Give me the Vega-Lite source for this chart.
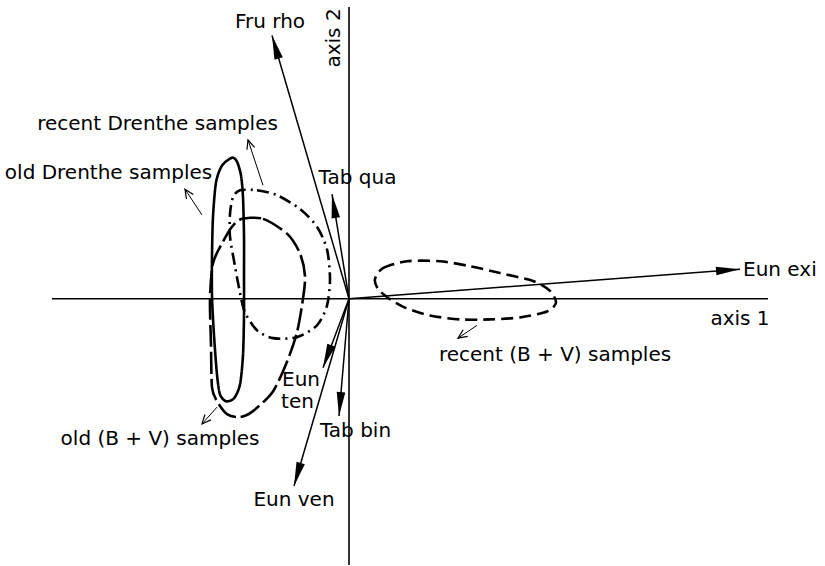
{
  "$schema": "https://vega.github.io/schema/vega-lite/v6.json",
  "width": 825,
  "height": 566,
  "padding": 0,
  "autosize": {"type": "fit", "contains": "padding"},
  "background": "white",
  "config": {"view": {"stroke": null}},
  "datasets": {
    "axes": [
      {"x": -2.97, "y": 0, "x2": 4.19, "y2": 0},
      {"x": 0, "y": 2.96, "x2": 0, "y2": -2.7}
    ],
    "vectors": [
      {"name": "Fru rho", "x0": 0, "y0": 0, "x": -0.77, "y": 2.67},
      {"name": "Tab qua", "x0": 0, "y0": 0, "x": -0.17, "y": 1.06},
      {"name": "Eun exi", "x0": 0, "y0": 0, "x": 3.91, "y": 0.30},
      {"name": "Eun ten", "x0": 0, "y0": 0, "x": -0.26, "y": -0.70},
      {"name": "Tab bin", "x0": 0, "y0": 0, "x": -0.10, "y": -1.19},
      {"name": "Eun ven", "x0": 0, "y0": 0, "x": -0.55, "y": -1.90}
    ],
    "pointers": [
      {"x": -0.86, "y": 1.15, "x2": -1.01, "y2": 1.61},
      {"x": -1.47, "y": 0.85, "x2": -1.64, "y2": 1.11},
      {"x": 1.28, "y": -0.27, "x2": 1.09, "y2": -0.40},
      {"x": -1.32, "y": -1.10, "x2": -1.47, "y2": -1.27}
    ],
    "envelopes": [
      {"g": "old Drenthe", "i": 1, "x": -1.17, "y": 1.43},
      {"g": "old Drenthe", "i": 2, "x": -1.27, "y": 1.35},
      {"g": "old Drenthe", "i": 3, "x": -1.33, "y": 1.18},
      {"g": "old Drenthe", "i": 4, "x": -1.36, "y": 0.83},
      {"g": "old Drenthe", "i": 5, "x": -1.37, "y": 0.43},
      {"g": "old Drenthe", "i": 6, "x": -1.37, "y": 0.03},
      {"g": "old Drenthe", "i": 7, "x": -1.35, "y": -0.37},
      {"g": "old Drenthe", "i": 8, "x": -1.32, "y": -0.77},
      {"g": "old Drenthe", "i": 9, "x": -1.29, "y": -0.97},
      {"g": "old Drenthe", "i": 10, "x": -1.23, "y": -1.04},
      {"g": "old Drenthe", "i": 11, "x": -1.15, "y": -1.01},
      {"g": "old Drenthe", "i": 12, "x": -1.09, "y": -0.87},
      {"g": "old Drenthe", "i": 13, "x": -1.06, "y": -0.57},
      {"g": "old Drenthe", "i": 14, "x": -1.05, "y": -0.17},
      {"g": "old Drenthe", "i": 15, "x": -1.05, "y": 0.23},
      {"g": "old Drenthe", "i": 16, "x": -1.05, "y": 0.63},
      {"g": "old Drenthe", "i": 17, "x": -1.06, "y": 1.03},
      {"g": "old Drenthe", "i": 18, "x": -1.08, "y": 1.25},
      {"g": "old Drenthe", "i": 19, "x": -1.12, "y": 1.39},
      {"g": "recent Drenthe", "i": 1, "x": -1.09, "y": 1.10},
      {"g": "recent Drenthe", "i": 2, "x": -0.92, "y": 1.10},
      {"g": "recent Drenthe", "i": 3, "x": -0.72, "y": 1.05},
      {"g": "recent Drenthe", "i": 4, "x": -0.49, "y": 0.91},
      {"g": "recent Drenthe", "i": 5, "x": -0.32, "y": 0.73},
      {"g": "recent Drenthe", "i": 6, "x": -0.22, "y": 0.50},
      {"g": "recent Drenthe", "i": 7, "x": -0.19, "y": 0.20},
      {"g": "recent Drenthe", "i": 8, "x": -0.22, "y": -0.07},
      {"g": "recent Drenthe", "i": 9, "x": -0.32, "y": -0.27},
      {"g": "recent Drenthe", "i": 10, "x": -0.52, "y": -0.39},
      {"g": "recent Drenthe", "i": 11, "x": -0.76, "y": -0.40},
      {"g": "recent Drenthe", "i": 12, "x": -0.92, "y": -0.32},
      {"g": "recent Drenthe", "i": 13, "x": -1.04, "y": -0.14},
      {"g": "recent Drenthe", "i": 14, "x": -1.09, "y": 0.06},
      {"g": "recent Drenthe", "i": 15, "x": -1.14, "y": 0.33},
      {"g": "recent Drenthe", "i": 16, "x": -1.19, "y": 0.63},
      {"g": "recent Drenthe", "i": 17, "x": -1.19, "y": 0.86},
      {"g": "recent Drenthe", "i": 18, "x": -1.16, "y": 1.03},
      {"g": "old BV", "i": 1, "x": -1.07, "y": 0.81},
      {"g": "old BV", "i": 2, "x": -0.86, "y": 0.81},
      {"g": "old BV", "i": 3, "x": -0.62, "y": 0.66},
      {"g": "old BV", "i": 4, "x": -0.49, "y": 0.46},
      {"g": "old BV", "i": 5, "x": -0.44, "y": 0.23},
      {"g": "old BV", "i": 6, "x": -0.46, "y": 0.00},
      {"g": "old BV", "i": 7, "x": -0.52, "y": -0.34},
      {"g": "old BV", "i": 8, "x": -0.62, "y": -0.64},
      {"g": "old BV", "i": 9, "x": -0.76, "y": -0.94},
      {"g": "old BV", "i": 10, "x": -0.96, "y": -1.14},
      {"g": "old BV", "i": 11, "x": -1.09, "y": -1.20},
      {"g": "old BV", "i": 12, "x": -1.22, "y": -1.17},
      {"g": "old BV", "i": 13, "x": -1.32, "y": -1.04},
      {"g": "old BV", "i": 14, "x": -1.37, "y": -0.90},
      {"g": "old BV", "i": 15, "x": -1.38, "y": -0.47},
      {"g": "old BV", "i": 16, "x": -1.39, "y": 0.00},
      {"g": "old BV", "i": 17, "x": -1.36, "y": 0.36},
      {"g": "old BV", "i": 18, "x": -1.27, "y": 0.56},
      {"g": "old BV", "i": 19, "x": -1.17, "y": 0.73},
      {"g": "recent BV", "i": 1, "x": 0.26, "y": 0.20},
      {"g": "recent BV", "i": 2, "x": 0.34, "y": 0.31},
      {"g": "recent BV", "i": 3, "x": 0.58, "y": 0.38},
      {"g": "recent BV", "i": 4, "x": 0.91, "y": 0.38},
      {"g": "recent BV", "i": 5, "x": 1.21, "y": 0.33},
      {"g": "recent BV", "i": 6, "x": 1.51, "y": 0.26},
      {"g": "recent BV", "i": 7, "x": 1.84, "y": 0.18},
      {"g": "recent BV", "i": 8, "x": 2.01, "y": 0.08},
      {"g": "recent BV", "i": 9, "x": 2.07, "y": -0.04},
      {"g": "recent BV", "i": 10, "x": 1.98, "y": -0.13},
      {"g": "recent BV", "i": 11, "x": 1.71, "y": -0.19},
      {"g": "recent BV", "i": 12, "x": 1.41, "y": -0.21},
      {"g": "recent BV", "i": 13, "x": 1.11, "y": -0.21},
      {"g": "recent BV", "i": 14, "x": 0.81, "y": -0.17},
      {"g": "recent BV", "i": 15, "x": 0.56, "y": -0.09},
      {"g": "recent BV", "i": 16, "x": 0.39, "y": 0.01},
      {"g": "recent BV", "i": 17, "x": 0.29, "y": 0.10}
    ],
    "labels": [
      {"t": "Fru rho", "x": -0.79, "y": 2.75},
      {"t": "recent Drenthe samples", "x": -1.915, "y": 1.71},
      {"t": "old Drenthe samples", "x": -2.405, "y": 1.21},
      {"t": "Tab qua", "x": 0.085, "y": 1.16},
      {"t": "axis 1", "x": 3.91, "y": -0.27},
      {"t": "recent (B + V) samples", "x": 2.06, "y": -0.63},
      {"t": "Eun", "x": -0.48, "y": -0.885},
      {"t": "ten", "x": -0.515, "y": -1.105},
      {"t": "Tab bin", "x": 0.065, "y": -1.40},
      {"t": "Eun ven", "x": -0.55, "y": -2.10},
      {"t": "old (B + V) samples", "x": -1.89, "y": -1.48}
    ]
  },
  "layer": [
    {
      "data": {"name": "axes"},
      "mark": {"type": "rule", "color": "black", "strokeWidth": 1.6},
      "encoding": {
        "x": {"field": "x", "type": "quantitative", "axis": null, "scale": {"domain": [-3.49, 4.76], "nice": false, "zero": false}},
        "y": {"field": "y", "type": "quantitative", "axis": null, "scale": {"domain": [-2.63, 3.03], "nice": false, "zero": false}},
        "x2": {"field": "x2"},
        "y2": {"field": "y2"}
      }
    },
    {
      "data": {"name": "envelopes"},
      "mark": {"type": "line", "color": "black", "strokeWidth": 2.6, "interpolate": "cardinal-closed", "tension": 0.2},
      "encoding": {
        "x": {"field": "x", "type": "quantitative", "axis": null},
        "y": {"field": "y", "type": "quantitative", "axis": null},
        "order": {"field": "i", "type": "quantitative"},
        "detail": {"field": "g", "type": "nominal"},
        "strokeDash": {
          "field": "g",
          "type": "nominal",
          "scale": {
            "domain": ["old Drenthe", "recent Drenthe", "old BV", "recent BV"],
            "range": [[1, 0], [12, 5, 2, 5], [22, 5], [12, 6]]
          },
          "legend": null
        }
      }
    },
    {
      "data": {"name": "vectors"},
      "mark": {"type": "rule", "color": "black", "strokeWidth": 1.5},
      "encoding": {
        "x": {"field": "x0", "type": "quantitative", "axis": null},
        "y": {"field": "y0", "type": "quantitative", "axis": null},
        "x2": {"field": "x"},
        "y2": {"field": "y"}
      }
    },
    {
      "data": {"name": "vectors"},
      "transform": [{"calculate": "atan2(datum.x, datum.y) * 180 / PI", "as": "ang"}],
      "mark": {"type": "point", "shape": "M0,0L0.18,1L-0.18,1Z", "filled": true, "color": "black", "size": 2304, "opacity": 1},
      "encoding": {
        "x": {"field": "x", "type": "quantitative", "axis": null},
        "y": {"field": "y", "type": "quantitative", "axis": null},
        "angle": {"field": "ang", "type": "quantitative", "scale": null}
      }
    },
    {
      "data": {"name": "pointers"},
      "mark": {"type": "rule", "color": "black", "strokeWidth": 1},
      "encoding": {
        "x": {"field": "x", "type": "quantitative", "axis": null},
        "y": {"field": "y", "type": "quantitative", "axis": null},
        "x2": {"field": "x2"},
        "y2": {"field": "y2"}
      }
    },
    {
      "data": {"name": "pointers"},
      "transform": [{"calculate": "atan2(datum.x2 - datum.x, datum.y2 - datum.y) * 180 / PI", "as": "ang"}],
      "mark": {"type": "point", "shape": "M-0.45,1L0,0L0.45,1", "filled": false, "color": "black", "strokeWidth": 1.2, "size": 324, "opacity": 1},
      "encoding": {
        "x": {"field": "x2", "type": "quantitative", "axis": null},
        "y": {"field": "y2", "type": "quantitative", "axis": null},
        "angle": {"field": "ang", "type": "quantitative", "scale": null}
      }
    },
    {
      "data": {"name": "labels"},
      "mark": {"type": "text", "font": "DejaVu Sans", "fontSize": 20, "color": "black", "baseline": "alphabetic", "align": "center"},
      "encoding": {
        "x": {"field": "x", "type": "quantitative", "axis": null},
        "y": {"field": "y", "type": "quantitative", "axis": null},
        "text": {"field": "t", "type": "nominal"}
      }
    },
    {
      "data": {"values": [{"t": "Eun exi", "x": 3.94, "y": 0.23}]},
      "mark": {"type": "text", "font": "DejaVu Sans", "fontSize": 20, "color": "black", "baseline": "alphabetic", "align": "left"},
      "encoding": {
        "x": {"field": "x", "type": "quantitative", "axis": null},
        "y": {"field": "y", "type": "quantitative", "axis": null},
        "text": {"field": "t", "type": "nominal"}
      }
    },
    {
      "data": {"values": [{"t": "axis 2", "x": -0.095, "y": 2.645}]},
      "mark": {"type": "text", "font": "DejaVu Sans", "fontSize": 20, "color": "black", "baseline": "alphabetic", "align": "center", "angle": 270},
      "encoding": {
        "x": {"field": "x", "type": "quantitative", "axis": null},
        "y": {"field": "y", "type": "quantitative", "axis": null},
        "text": {"field": "t", "type": "nominal"}
      }
    }
  ]
}
